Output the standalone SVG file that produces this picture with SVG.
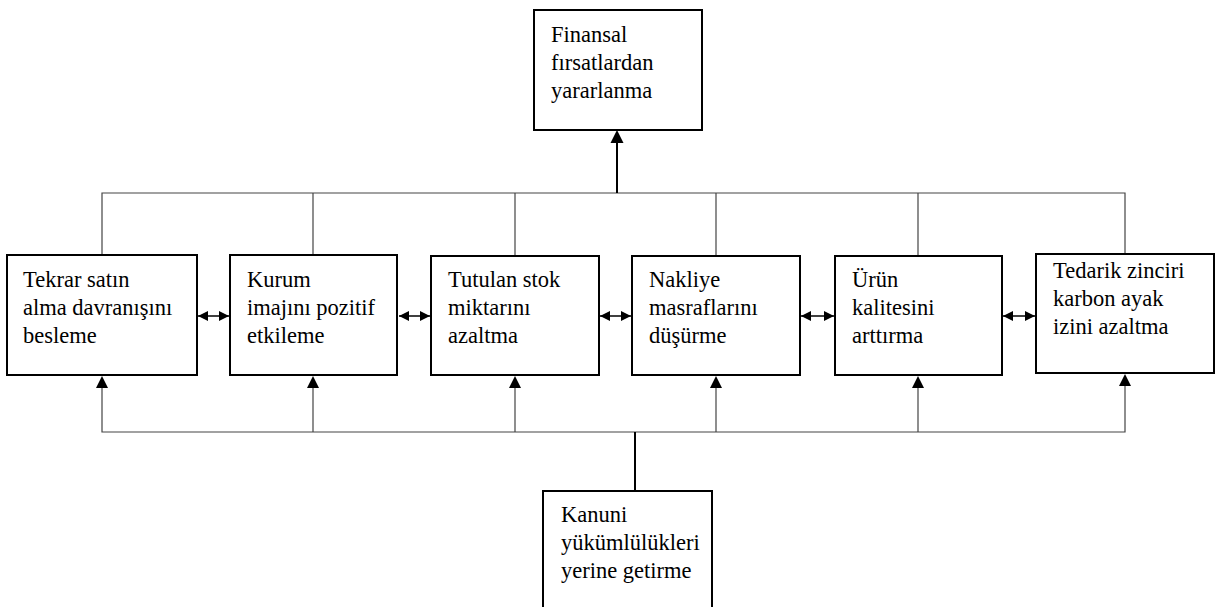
<svg xmlns="http://www.w3.org/2000/svg" width="1218" height="607" viewBox="0 0 1218 607">
<style>
.box{fill:#fff;stroke:#000;stroke-width:2}
.t{font-size:22.5px;fill:#000}
.ln{fill:none;stroke:#444;stroke-width:1.2}
.th{fill:none;stroke:#000;stroke-width:2}
.dbl{fill:none;stroke:#000;stroke-width:1.5;marker-start:url(#ah);marker-end:url(#ah)}
</style>
<defs>
<marker id="ah" viewBox="0 0 10 10" refX="10" refY="5" markerWidth="10" markerHeight="10" markerUnits="userSpaceOnUse" orient="auto-start-reverse">
<path d="M0,0 L10,5 L0,10 Z" fill="#000"/>
</marker>
</defs>
<rect width="1218" height="607" fill="#fff"/>
<g id="connectors">
<polyline class="ln" points="102,255 102,193 1125,193 1125,254"/>
<line class="ln" x1="313" y1="193" x2="313" y2="255"/>
<line class="ln" x1="515" y1="193" x2="515" y2="256"/>
<line class="ln" x1="716" y1="193" x2="716" y2="256"/>
<line class="ln" x1="918" y1="193" x2="918" y2="256"/>
<line class="th" x1="617" y1="193" x2="617" y2="142"/>
<path d="M610.5,143 L617,130 L623.5,143 Z" fill="#000"/>
<polyline class="ln" points="102,387 102,432 1125,432 1125,386"/>
<line class="ln" x1="313" y1="432" x2="313" y2="387"/>
<line class="ln" x1="515" y1="432" x2="515" y2="387"/>
<line class="ln" x1="716" y1="432" x2="716" y2="387"/>
<line class="ln" x1="918" y1="432" x2="918" y2="387"/>
<line class="th" x1="635" y1="432" x2="635" y2="491"/>
<path d="M96,388 L102,376 L108,388 Z" fill="#000"/>
<path d="M307,388 L313,376 L319,388 Z" fill="#000"/>
<path d="M509,388 L515,376 L521,388 Z" fill="#000"/>
<path d="M710,388 L716,376 L722,388 Z" fill="#000"/>
<path d="M912,388 L918,376 L924,388 Z" fill="#000"/>
<path d="M1119,386 L1125,374 L1131,386 Z" fill="#000"/>
<line class="dbl" x1="198" y1="316" x2="229" y2="316"/>
<line class="dbl" x1="399" y1="316" x2="430" y2="316"/>
<line class="dbl" x1="600" y1="316" x2="631" y2="316"/>
<line class="dbl" x1="801" y1="316" x2="834" y2="316"/>
<line class="dbl" x1="1003" y1="316" x2="1035" y2="316"/>
</g>
<g id="n-top" font-family="Liberation Serif">
<rect class="box" x="534" y="10" width="168" height="120"/>
<text class="t" x="551" y="42">Finansal</text>
<text class="t" x="551" y="70">fırsatlardan</text>
<text class="t" x="551" y="98">yararlanma</text>
</g>
<g id="n1" font-family="Liberation Serif">
<rect class="box" x="7" y="255" width="190" height="120"/>
<text class="t" x="23" y="287">Tekrar satın</text>
<text class="t" x="23" y="315">alma davranışını</text>
<text class="t" x="23" y="343">besleme</text>
</g>
<g id="n2" font-family="Liberation Serif">
<rect class="box" x="230" y="255" width="167" height="120"/>
<text class="t" x="247" y="287">Kurum</text>
<text class="t" x="247" y="315">imajını pozitif</text>
<text class="t" x="247" y="343">etkileme</text>
</g>
<g id="n3" font-family="Liberation Serif">
<rect class="box" x="431" y="256" width="168" height="119"/>
<text class="t" x="448" y="287">Tutulan stok</text>
<text class="t" x="448" y="315">miktarını</text>
<text class="t" x="448" y="343">azaltma</text>
</g>
<g id="n4" font-family="Liberation Serif">
<rect class="box" x="632" y="256" width="168" height="119"/>
<text class="t" x="649" y="287">Nakliye</text>
<text class="t" x="649" y="315">masraflarını</text>
<text class="t" x="649" y="343">düşürme</text>
</g>
<g id="n5" font-family="Liberation Serif">
<rect class="box" x="835" y="256" width="167" height="119"/>
<text class="t" x="852" y="287">Ürün</text>
<text class="t" x="852" y="315">kalitesini</text>
<text class="t" x="852" y="343">arttırma</text>
</g>
<g id="n6" font-family="Liberation Serif">
<rect class="box" x="1036" y="254" width="178" height="119"/>
<text class="t" x="1053" y="278">Tedarik zinciri</text>
<text class="t" x="1053" y="306">karbon ayak</text>
<text class="t" x="1053" y="334">izini azaltma</text>
</g>
<g id="n-bottom" font-family="Liberation Serif">
<rect class="box" x="543" y="491" width="169" height="130"/>
<text class="t" x="561" y="522">Kanuni</text>
<text class="t" x="561" y="550">yükümlülükleri</text>
<text class="t" x="561" y="578">yerine getirme</text>
</g>
</svg>
